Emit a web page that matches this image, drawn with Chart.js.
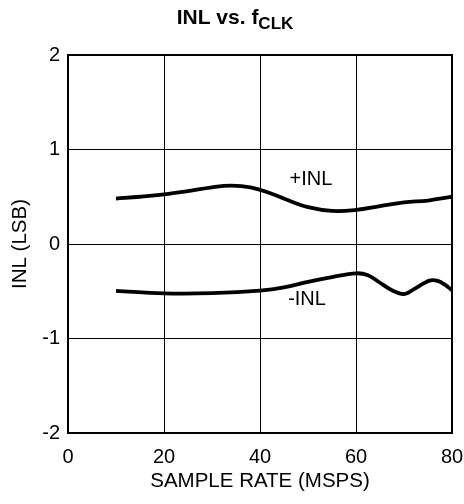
<!DOCTYPE html>
<html>
<head>
<meta charset="utf-8">
<script src="https://cdn.jsdelivr.net/npm/chart.js@4"></script>
<style>
  html, body { margin: 0; padding: 0; background: #fff; }
  #wrap { width: 464px; height: 504px; }
</style>
</head>
<body>
<div id="wrap"><canvas id="c" width="464" height="504"></canvas></div>
<script>
// sample rate (MSPS) vs INL (LSB)
const plusX = [10, 15, 20, 25, 30, 34, 38, 42, 46, 50, 55, 60, 65, 70, 75, 80];
const plusY = [0.48, 0.50, 0.525, 0.56, 0.60, 0.617, 0.60, 0.54, 0.46, 0.39, 0.35, 0.36, 0.40, 0.44, 0.46, 0.50];
const minusX = [10, 20, 30, 40, 45, 50, 55, 60, 62.5, 65, 67.5, 70, 72, 74, 75.5, 77, 78.5, 80];
const minusY = [-0.497, -0.522, -0.52, -0.494, -0.46, -0.40, -0.35, -0.31, -0.33, -0.41, -0.49, -0.53, -0.48, -0.42, -0.385, -0.39, -0.43, -0.49];
const xTicks = [0, 20, 40, 60, 80];
const yTicks = [-2, -1, 0, 1, 2];
const curveLabels = ['+INL', '-INL'];
const labelX = [50.6, 49.8];
const labelY = [0.68, -0.59];

const FONT = '"Liberation Sans", Arial, Helvetica, sans-serif';

const toPts = (xs, ys) => xs.map((x, i) => ({ x: x, y: ys[i] }));

// title with subscript, frame, curve labels
const extras = {
    id: 'extras',
    afterDraw(chart) {
        const ctx = chart.ctx;
        const a = chart.chartArea;
        const sx = chart.scales.x, sy = chart.scales.y;
        ctx.save();
        ctx.strokeStyle = '#000';
        ctx.lineWidth = 2;
        ctx.strokeRect(a.left, a.top, a.right - a.left, a.bottom - a.top);

        ctx.fillStyle = '#000';
        ctx.textAlign = 'center';
        ctx.textBaseline = 'middle';
        ctx.font = '20px ' + FONT;
        curveLabels.forEach((t, i) => {
            ctx.fillText(t, sx.getPixelForValue(labelX[i]), sy.getPixelForValue(labelY[i]));
        });

        // title
        ctx.textBaseline = 'alphabetic';
        ctx.textAlign = 'left';
        const main = 'INL vs. f';
        const sub = 'CLK';
        ctx.font = 'bold 21px ' + FONT;
        const w1 = ctx.measureText(main).width;
        ctx.font = 'bold 17px ' + FONT;
        const w2 = ctx.measureText(sub).width;
        const x0 = 235 - (w1 + w2) / 2;
        ctx.font = 'bold 21px ' + FONT;
        ctx.fillText(main, x0, 24);
        ctx.font = 'bold 17px ' + FONT;
        ctx.fillText(sub, x0 + w1, 29);
        ctx.restore();
    }
};

new Chart(document.getElementById('c'), {
    type: 'line',
    data: {
        datasets: [
            { label: '+INL', data: toPts(plusX, plusY) },
            { label: '-INL', data: toPts(minusX, minusY) }
        ]
    },
    options: {
        responsive: false,
        animation: false,
        layout: { autoPadding: false, padding: { top: 55, right: 12, left: 0, bottom: 0 } },
        elements: {
            line: { borderColor: '#000', borderWidth: 3.8, tension: 0.4, capBezierPoints: true },
            point: { radius: 0 }
        },
        plugins: { legend: { display: false }, tooltip: { enabled: false } },
        scales: {
            x: {
                type: 'linear', min: 0, max: 80,
                afterBuildTicks: s => { s.ticks = xTicks.map(v => ({ value: v })); },
                afterFit: s => { s.paddingLeft = 0; s.paddingRight = 0; s.height = 71; },
                grid: { color: '#000', lineWidth: 1, drawTicks: false },
                border: { display: false },
                ticks: { color: '#000', font: { family: FONT, size: 20 }, padding: 12 },
                title: { display: true, text: 'SAMPLE RATE (MSPS)', color: '#000', font: { family: FONT, size: 20.5 }, padding: { top: 0, bottom: 10 } }
            },
            y: {
                min: -2, max: 2,
                afterBuildTicks: s => { s.ticks = yTicks.map(v => ({ value: v })); },
                afterFit: s => { s.paddingTop = 0; s.paddingBottom = 0; s.width = 68; },
                grid: { color: '#000', lineWidth: 1, drawTicks: false },
                border: { display: false },
                ticks: { color: '#000', font: { family: FONT, size: 20 }, padding: 8 },
                title: { display: true, text: 'INL (LSB)', color: '#000', font: { family: FONT, size: 20.5 }, padding: { top: 8, bottom: 0 } }
            }
        }
    },
    plugins: [extras]
});
</script>
</body>
</html>
